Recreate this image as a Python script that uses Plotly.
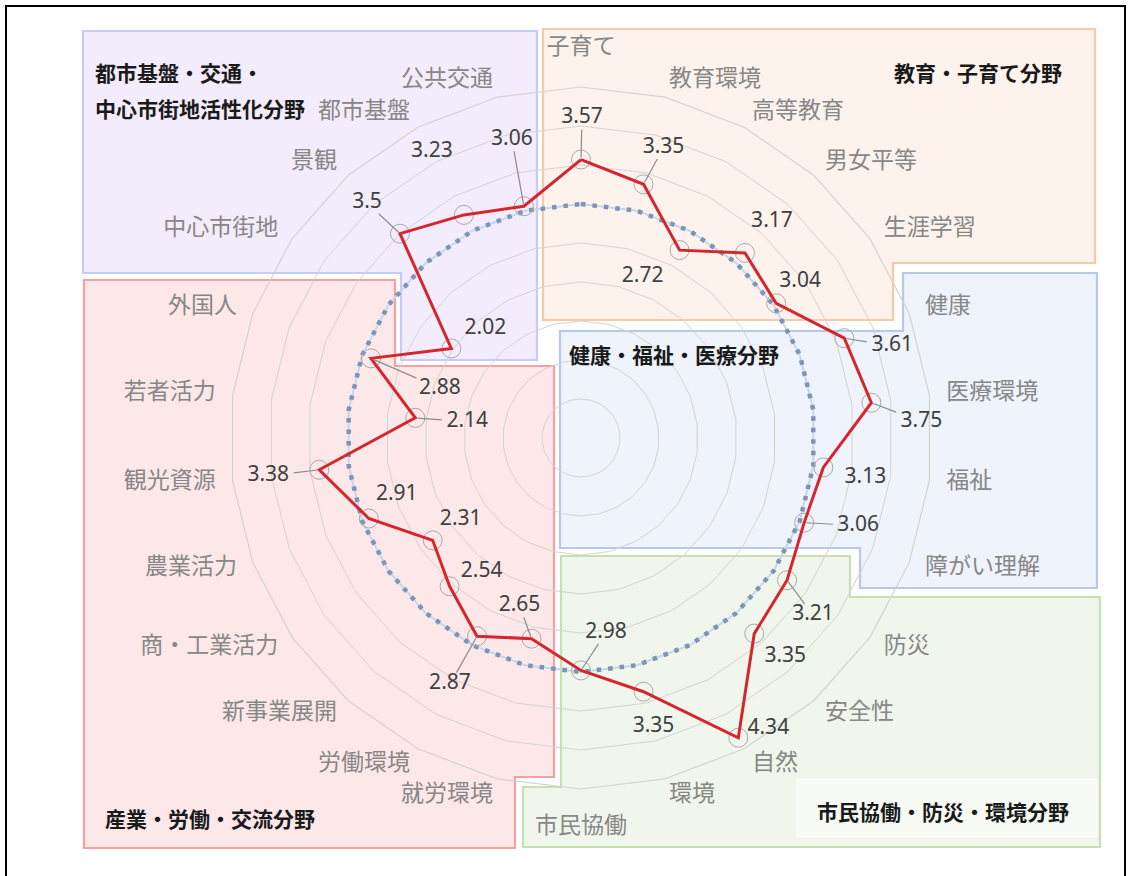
import numpy as np
import plotly.graph_objects as go

# ---------------- data ----------------
categories = ["子育て", "教育環境", "高等教育", "男女平等", "生涯学習", "健康", "医療環境",
              "福祉", "障がい理解", "防災", "安全性", "自然", "環境", "市民協働",
              "就労環境", "労働環境", "新事業展開", "商・工業活力", "農業活力", "観光資源",
              "若者活力", "外国人", "中心市街地", "景観", "都市基盤", "公共交通"]
scores = [3.57, 3.35, 2.72, 3.17, 3.04, 3.61, 3.75, 3.13, 3.06, 3.21, 3.35, 4.34, 3.35,
          2.98, 2.65, 2.87, 2.54, 2.31, 2.91, 3.38, 2.14, 2.88, 2.02, 3.5, 3.23, 3.06]
benchmark = [3.0] * len(categories)

# ---------------- presentation config ----------------
W, H = 1133, 876
CX, CY, RPX = 581, 438, 351          # polar centre / outer radius in px
RMAX = 4.5
PPU = RPX / RMAX                      # px per radial unit
RMAX2 = 5.2                           # overlay polar (labels) radial extent, same scale
CAT_LABEL_PX = 368                    # anchor radius of category labels (px)
CAT_LABEL_PX_VERT = 378               # anchor radius for labels straight up / down

# value-label offsets from their point (screen px, y down) and whether a leader line is drawn
label_offsets = [(1, -42), (20, -37), (-37, 27), (27, -31), (24, -22), (48, 8), (50, 19),
                 (42, 10), (54, 3), (26, 35), (31, 23), (30, -9), (10, 35), (25, -38),
                 (-12, -33), (-27, 48), (32, -15), (28, -21), (28, -24), (-51, 6), (52, 4),
                 (69, 30), (34, -20), (-33, -31), (-32, -63), (-12, -67)]
leaders = [1, 1, 0, 0, 0, 1, 1, 0, 1, 1, 0, 0, 0, 1, 1, 1, 0, 0, 0, 1, 1, 1, 0, 1, 0, 1]

n = len(categories)
step = 360.0 / n
phi = [i * step for i in range(n)]


def to_xy(r, ang):
    a = np.radians(ang)
    return r * np.sin(a), r * np.cos(a)


def to_polar(x, y):
    return float(np.hypot(x, y)), float(np.degrees(np.arctan2(x, y)) % 360)


label_text = [f"{v:g}" for v in scores]
lab_r, lab_t = [], []
lead_r, lead_t = [], []
for i, v in enumerate(scores):
    px, py = to_xy(v, phi[i])
    dx, dy = label_offsets[i]
    r, t = to_polar(px + dx / PPU, py - dy / PPU)
    lab_r.append(r)
    lab_t.append(t)
    if leaders[i]:
        L = np.hypot(dx, dy)
        ux, uy = dx / L, dy / L
        hw, hh = 5.6 * len(label_text[i]), 9.0
        tb = min(hw / abs(ux) if abs(ux) > 1e-6 else 1e9, hh / abs(uy) if abs(uy) > 1e-6 else 1e9)
        s0, s1 = 2.0, L - tb - 3
        if s1 > s0 + 3:
            for s in (s0, s1):
                r, t = to_polar(px + ux * s / PPU, py - uy * s / PPU)
                lead_r.append(r)
                lead_t.append(t)
            lead_r.append(None)
            lead_t.append(None)

# category label placement (left/right aligned by side, above/below at top/bottom)
cat_r, cat_pos = [], []
for a in phi:
    h = np.sin(np.radians(a))
    if abs(h) < 0.1:
        cat_r.append(CAT_LABEL_PX_VERT / PPU)
        cat_pos.append("top center" if np.cos(np.radians(a)) > 0 else "bottom center")
    else:
        cat_r.append(CAT_LABEL_PX / PPU)
        cat_pos.append("middle right" if h > 0 else "middle left")

cat_closed = categories + [categories[0]]

fig = go.Figure()

# benchmark ring (3.0)
fig.add_trace(go.Scatterpolar(r=benchmark + [benchmark[0]], theta=cat_closed, mode="lines",
                              line=dict(color="#c3d8ee", width=2), subplot="polar",
                              showlegend=False, hoverinfo="skip"))
fig.add_trace(go.Scatterpolar(r=benchmark + [benchmark[0]], theta=cat_closed, mode="lines",
                              line=dict(color="#7d94b4", width=4.5, dash="4.5px,7px"), subplot="polar",
                              showlegend=False, hoverinfo="skip"))
# point circles
fig.add_trace(go.Scatterpolar(r=scores, theta=categories, mode="markers",
                              marker=dict(symbol="circle-open", size=19, color="#a8a8a8",
                                          line=dict(width=1)),
                              subplot="polar", showlegend=False))
# score line
fig.add_trace(go.Scatterpolar(r=scores + [scores[0]], theta=cat_closed, mode="lines",
                              line=dict(color="#d6262d", width=3), subplot="polar",
                              showlegend=False))
# category labels
fig.add_trace(go.Scatterpolar(r=cat_r, theta=phi, mode="text", text=categories,
                              textposition=cat_pos, cliponaxis=False,
                              textfont=dict(size=23, color="#878787", family="Noto Sans CJK JP"),
                              subplot="polar2", showlegend=False, hoverinfo="skip"))
# leader lines and value labels (overlay polar with numeric angles)
fig.add_trace(go.Scatterpolar(r=lead_r, theta=lead_t, mode="lines",
                              line=dict(color="#8c8c8c", width=1.2), subplot="polar2",
                              showlegend=False, hoverinfo="skip", connectgaps=False))
fig.add_trace(go.Scatterpolar(r=lab_r, theta=lab_t, mode="text", text=label_text,
                              textposition="middle center", cliponaxis=False,
                              textfont=dict(size=21, color="#404040", family="Noto Sans"),
                              subplot="polar2", showlegend=False, hoverinfo="skip"))


def P(x, y):
    return x / W, 1 - y / H


def path(pts):
    s = ""
    for k, (x, y) in enumerate(pts):
        u, v = P(x, y)
        s += ("M" if k == 0 else "L") + f"{u:.5f},{v:.5f} "
    return s + "Z"


boxes = [
    # (outline points, fill, line colour)
    ([(83, 31), (537, 31), (537, 360), (401, 360), (401, 273), (83, 273)], "#f3ecfc", "#c9cbf7"),
    ([(543, 29), (1095, 29), (1095, 263), (893, 263), (893, 320), (543, 320)], "#fdf3ec", "#f7c9a9"),
    ([(560, 331), (903, 331), (903, 273), (1097, 273), (1097, 588), (860, 588), (860, 548), (560, 548)],
     "#eff3fb", "#b6c9ea"),
    ([(561, 556), (850, 556), (850, 597), (1100, 597), (1100, 847), (523, 847), (523, 787), (561, 787)],
     "#f1f6ec", "#c6e0b4"),
    ([(84, 280), (395, 280), (395, 366), (554, 366), (554, 777), (515, 777), (515, 848), (84, 848)],
     "#fde8e9", "#f6a0a2"),
]
shapes = []
for pts, fill, lc in boxes:
    shapes.append(dict(type="path", path=path(pts), xref="paper", yref="paper", fillcolor=fill,
                       line=dict(color=lc, width=2.2), layer="below"))
# light panel behind the green title
shapes.append(dict(type="path", path=path([(797, 779), (1097, 779), (1097, 837), (797, 837)]),
                   xref="paper", yref="paper", fillcolor="rgba(255,255,255,0.45)",
                   line=dict(color="rgba(255,255,255,0.9)", width=1), layer="below"))
# outer frame
shapes.append(dict(type="path", path=path([(6, 6), (1125, 6), (1125, 890), (6, 890)]),
                   xref="paper", yref="paper", fillcolor="rgba(0,0,0,0)",
                   line=dict(color="#000000", width=2), layer="above"))

titles = [("都市基盤・交通・", 93, 72), ("中心市街地活性化分野", 93, 108), ("教育・子育て分野", 892, 72),
          ("健康・福祉・医療分野", 567, 354), ("産業・労働・交流分野", 103, 818),
          ("市民協働・防災・環境分野", 815, 811)]
annotations = []
for txt, x, y in titles:
    u, v = P(x, y)
    annotations.append(dict(text=txt, x=u, y=v, xref="paper", yref="paper", xanchor="left",
                            yanchor="middle", showarrow=False,
                            font=dict(size=21, color="#1a1a1a", family="Noto Sans CJK JP",
                                      weight="bold")))

dom_x = [(CX - RPX) / W, (CX + RPX) / W]
dom_y = [1 - (CY + RPX) / H, 1 - (CY - RPX) / H]
R2PX = RMAX2 * PPU
dom2_x = [(CX - R2PX) / W, (CX + R2PX) / W]
dom2_y = [1 - (CY + R2PX) / H, 1 - (CY - R2PX) / H]

fig.update_layout(
    width=W, height=H, margin=dict(l=0, r=0, t=0, b=0),
    paper_bgcolor="white", plot_bgcolor="white",
    shapes=shapes, annotations=annotations,
    polar=dict(
        domain=dict(x=dom_x, y=dom_y), bgcolor="rgba(0,0,0,0)", gridshape="linear",
        radialaxis=dict(range=[0, RMAX], dtick=0.5, tick0=0, showticklabels=False, ticks="",
                        showline=False, gridcolor="#d3d3d3", gridwidth=1.2),
        angularaxis=dict(rotation=90, direction="clockwise", showgrid=False, showline=True,
                         linecolor="#d3d3d3", linewidth=1.2, ticks="", showticklabels=False),
    ),
    polar2=dict(
        domain=dict(x=dom2_x, y=dom2_y), bgcolor="rgba(0,0,0,0)",
        radialaxis=dict(range=[0, RMAX2], visible=False),
        angularaxis=dict(rotation=90, direction="clockwise", thetaunit="degrees", visible=False),
    ),
)

fig.write_html("out.html", config={"displayModeBar": False},
               post_script="document.body.style.margin='0px';")
